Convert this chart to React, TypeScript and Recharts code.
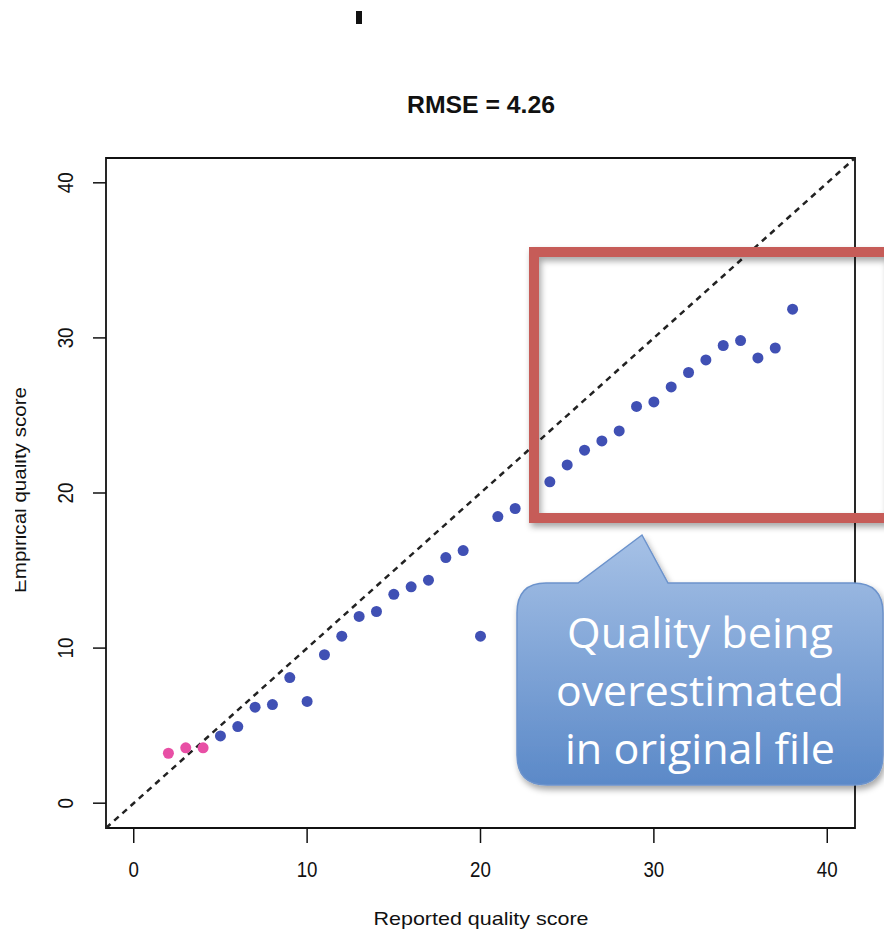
import { ScatterChart, Scatter, XAxis, YAxis, ReferenceLine, ReferenceArea } from "recharts";

const pinkX = [2, 3, 4];
const pinkY = [3.22, 3.57, 3.57];

const blueX = [5, 6, 7, 8, 9, 10, 11, 12, 13, 14, 15, 16, 17, 18, 19, 20, 21, 22, 24, 25, 26, 27, 28, 29, 30, 31, 32, 33, 34, 35, 36, 37, 38];
const blueY = [4.34, 4.94, 6.19, 6.36, 8.1, 6.56, 9.57, 10.77, 12.04, 12.36, 13.47, 13.95, 14.38, 15.84, 16.29, 10.77, 18.48, 19.0, 20.72, 21.81, 22.76, 23.36, 24.0, 25.58, 25.87, 26.84, 27.77, 28.58, 29.51, 29.83, 28.71, 29.35, 31.85];

const axisTicks = [0, 10, 20, 30, 40];
const axisDomain = [-1.6, 41.6];

const titleText = "RMSE = 4.26";
const xTitle = "Reported quality score";
const yTitle = "Empirical quality score";
const calloutLines = ["Quality being", "overestimated", "in original file"];
const calloutWidths = [266, 288, 270];

const pinkData = pinkX.map((x, i) => ({ x, y: pinkY[i] }));
const blueData = blueX.map((x, i) => ({ x, y: blueY[i] }));

const FONT = "'Liberation Sans', Arial, sans-serif";

const Dot = (color: string) => (props: any) => (
  <circle cx={props.cx} cy={props.cy} r={5.5} fill={color} />
);

const XTick = (props: any) => (
  <text x={props.x} y={props.y + 24} textAnchor="middle" dominantBaseline="central" fontFamily={FONT} fontSize={22} fill="#111"
    transform={`translate(${props.x},0) scale(0.85,1) translate(${-props.x},0)`}>
    {props.payload.value}
  </text>
);

const YTick = (props: any) => (
  <g transform={`translate(${props.x - 26},${props.y}) rotate(-90) scale(0.85,1)`}>
    <text textAnchor="middle" dominantBaseline="central" fontFamily={FONT} fontSize={22} fill="#111">
      {props.payload.value}
    </text>
  </g>
);

export default function App() {
  return (
    <div style={{ position: "absolute", left: 0, top: 0, width: 884, height: 933, background: "#fff" }}>
      <ScatterChart width={884} height={933} margin={{ top: 158, right: 29, bottom: 65, left: 46 }}>
        <XAxis type="number" dataKey="x" domain={axisDomain} ticks={axisTicks} allowDataOverflow
          height={40} axisLine={false} tickSize={15} tickLine={{ stroke: "#111", strokeWidth: 1.5 }} tick={<XTick />} />
        <YAxis type="number" dataKey="y" domain={axisDomain} ticks={axisTicks} allowDataOverflow
          width={60} axisLine={false} tickSize={13} tickLine={{ stroke: "#111", strokeWidth: 1.5 }} tick={<YTick />} />
        <ReferenceArea x1={-1.6} x2={41.6} y1={-1.6} y2={41.6} fill="none" stroke="#111" strokeWidth={1.8} fillOpacity={0} />
        <ReferenceLine segment={[{ x: -1.6, y: -1.6 }, { x: 41.6, y: 41.6 }]} stroke="#222" strokeWidth={2.5} strokeDasharray="6 5" />
        <Scatter data={pinkData} fill="#e84fa5" shape={Dot("#e84fa5")} isAnimationActive={false} />
        <Scatter data={blueData} fill="#4050b4" shape={Dot("#4050b4")} isAnimationActive={false} />
      </ScatterChart>
      <svg width={884} height={933} style={{ position: "absolute", left: 0, top: 0, pointerEvents: "none" }}>
        <defs>
          <linearGradient id="callout" x1="0" y1="0" x2="0" y2="1">
            <stop offset="0%" stopColor="#a6c1e6" />
            <stop offset="100%" stopColor="#5b89c8" />
          </linearGradient>
          <filter id="shadow" x="-10%" y="-10%" width="130%" height="130%">
            <feDropShadow dx="2" dy="4" stdDeviation="3" floodColor="#000" floodOpacity="0.35" />
          </filter>
          <clipPath id="yclip">
            <rect x={15} y={0} width={100} height={933} />
          </clipPath>
        </defs>
        <rect x={356} y={11} width={6} height={13} fill="#111" />
        <text x={481} y={113} textAnchor="middle" fontFamily={FONT} fontWeight="bold" fontSize={24} fill="#111"
          textLength={148} lengthAdjust="spacingAndGlyphs">
          {titleText}
        </text>
        <text x={481} y={925} textAnchor="middle" fontFamily={FONT} fontSize={19} fill="#111"
          textLength={215} lengthAdjust="spacingAndGlyphs">
          {xTitle}
        </text>
        <g clipPath="url(#yclip)">
          <text transform="translate(26,490) rotate(-90)" textAnchor="middle" fontFamily={FONT} fontSize={19} fill="#111"
            textLength={206} lengthAdjust="spacingAndGlyphs">
            {yTitle}
          </text>
        </g>
        <rect x={534} y={252} width={356} height={266} fill="none" stroke="#c65c58" strokeWidth={10} filter="url(#shadow)" />
        <path
          d="M 546 583 L 578 583 L 642 535 L 668 583 L 853 583 Q 883 583 883 613 L 883 755 Q 883 785 853 785 L 547 785 Q 517 785 517 755 L 517 613 Q 517 583 546 583 Z"
          fill="url(#callout)" stroke="#6c93cc" strokeWidth={1.5} filter="url(#shadow)" />
        {calloutLines.map((line, i) => (
          <text key={line} x={700} y={631 + i * 58} textAnchor="middle" dominantBaseline="central" fontFamily="'Open Sans', Lato, sans-serif"
            fontSize={42} fill="#fff" textLength={calloutWidths[i]} lengthAdjust="spacingAndGlyphs">
            {line}
          </text>
        ))}
      </svg>
    </div>
  );
}
